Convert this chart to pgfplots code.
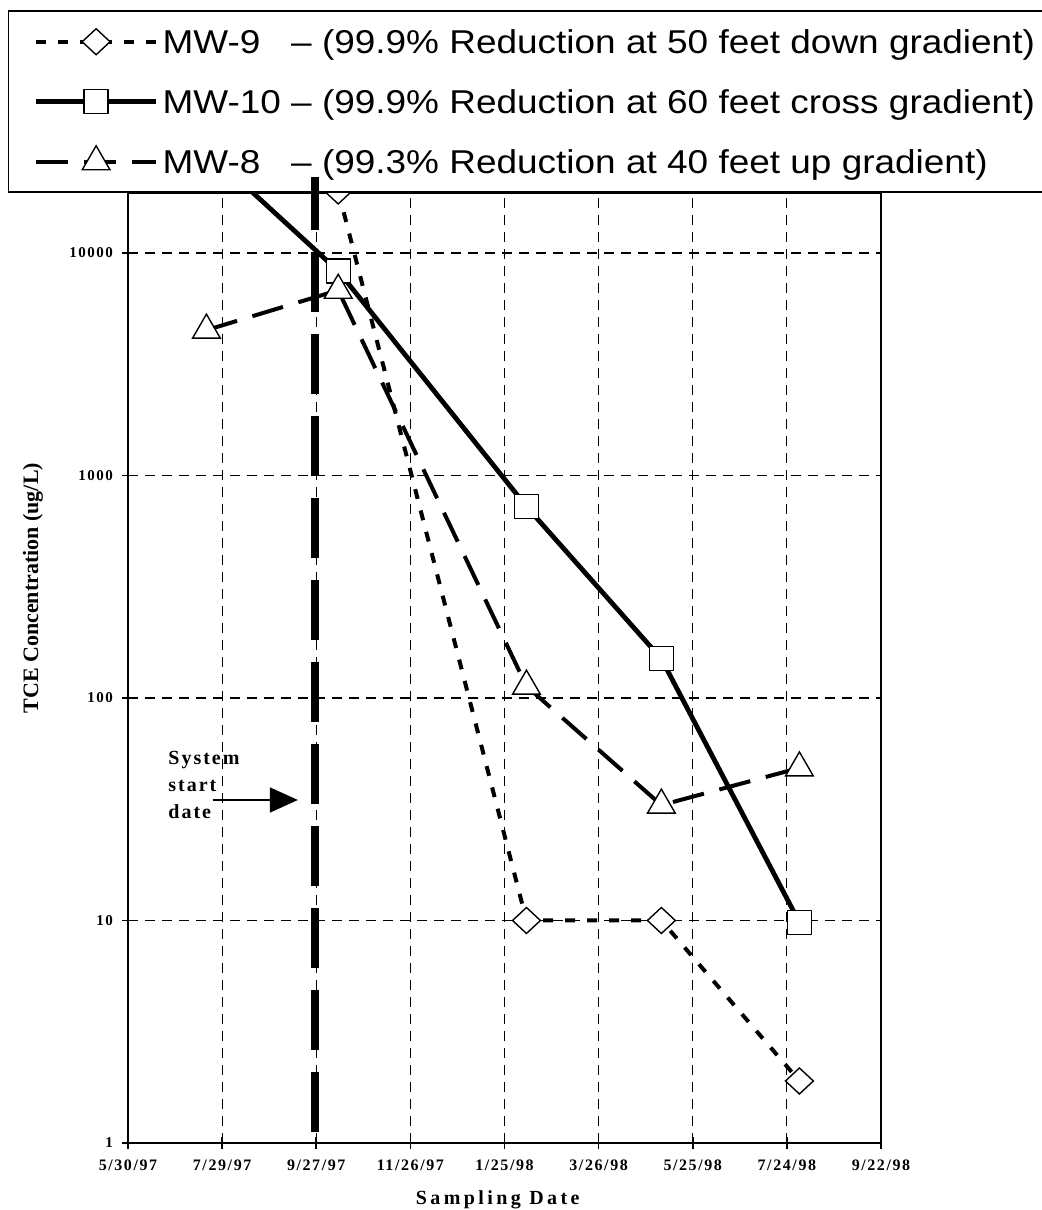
\documentclass[border=0pt]{standalone}
\usepackage{fontspec}
\setmainfont{Liberation Serif}
\newfontfamily\legfont[FakeStretch=1.12]{Liberation Sans}
\newfontfamily\spacedserif[LetterSpace=10]{Liberation Serif}
\newfontfamily\widespaced[LetterSpace=17]{Liberation Serif}
\usepackage{pgfplots}
\pgfplotsset{compat=1.18}
\usetikzlibrary{arrows.meta}

\begin{document}
\begin{tikzpicture}
\begin{axis}[
    set layers,
    at={(0,0)}, anchor=south west,
    scale only axis,
    width=376.5pt, height=475pt,
    xmin=0, xmax=480,
    ymode=log, ymin=1, ymax=18600,
    clip=false,
    xtick={0,60,...,480},
    xticklabels={5/30/97,7/29/97,9/27/97,11/26/97,1/25/98,3/26/98,5/25/98,7/24/98,9/22/98},
    ytick={1,10,100,1000,10000},
    yticklabels={1,10,100,1000,10000},
    yminorticks=false,
    tick pos=left,
    tick align=center,
    major tick length=6pt,
    tick style={black, line width=0.8pt},
    grid=major,
    major grid style={black, line width=0.6pt, dash pattern=on 5pt off 3.5pt},
    axis line style={black, line width=1.1pt},
    xticklabel style={font=\spacedserif\bfseries\fontsize{8}{9}\selectfont, yshift=-2pt},
    yticklabel style={font=\spacedserif\bfseries\fontsize{7.5}{9}\selectfont, xshift=-1pt},
    xlabel={Sampling Date},
    xlabel style={font=\widespaced\bfseries\fontsize{10}{12}\selectfont,
        at={(axis description cs:0.491,-0.06)}, anchor=center},
    ylabel={TCE Concentration (ug/L)},
    ylabel style={font=\bfseries\fontsize{11}{13}\selectfont,
        at={(axis description cs:-0.1262,0.584)}, anchor=center},
    legend cell align=left,
    legend image code/.code={
        \path (0pt,0pt);
        \draw[mark repeat=2,mark phase=2,#1] plot coordinates {(10pt,0pt) (40pt,0pt) (70pt,0pt)};
    },
    legend style={
        at={(-0.1594,1)}, anchor=south west,
        draw=black, line width=0.75pt, fill=white,
        inner xsep=2.5pt, inner ysep=7pt,
        row sep=13.5pt,
        font=\legfont\fontsize{16.5}{19}\selectfont,
        nodes={text height=14pt, text depth=2.5pt, inner xsep=2pt, inner ysep=0pt},
    },
]

% MW-9
\addplot[black, line width=2pt, dash pattern=on 5pt off 6pt,
    mark=diamond*, mark size=6.5pt,
    mark options={solid, fill=white, draw=black, line width=0.7pt, xscale=1.43}]
    coordinates {(134,19000) (254,10) (340,10) (428,1.9)};
\addlegendentry{MW-9\phantom{0} – (99.9\% Reduction at 50 feet down gradient)}

% MW-10
\addplot[black, line width=2.4pt, line join=round,
    mark=square*, mark size=6pt,
    mark options={solid, fill=white, draw=black, line width=0.7pt}]
    coordinates {(50,29000) (134,8300) (254,725) (340,150) (428,9.8)};
\addlegendentry{MW-10 – (99.9\% Reduction at 60 feet cross gradient)}

% MW-8
\addplot[black, line width=2pt, dash pattern=on 16pt off 8pt,
    mark=triangle*, mark size=8pt,
    mark options={solid, fill=white, draw=black, line width=0.7pt}]
    coordinates {(50,4500) (134,6800) (254,113) (340,33) (428,48.5)};
\addlegendentry{MW-8\phantom{0} – (99.3\% Reduction at 40 feet up gradient)}

% system start date
\addplot[forget plot, on layer=axis foreground, black, line width=4pt,
    dash pattern=on 30pt off 11pt]
    coordinates {(119,1.12) (119,22000)};

\node[anchor=west, align=left, inner sep=0pt,
    font=\spacedserif\bfseries\fontsize{10}{13.5}\selectfont]
    at (axis cs:25.5,40.6) {System\\start\\date};
\draw[black, line width=0.75pt, -{Triangle[length=14pt,width=12.5pt]}]
    (axis cs:54,34.8) -- (axis cs:108.3,34.8);

\end{axis}
\pgfresetboundingbox
\path (-64pt,-33.5pt) rectangle (457pt,571.5pt);
\end{tikzpicture}
\end{document}
